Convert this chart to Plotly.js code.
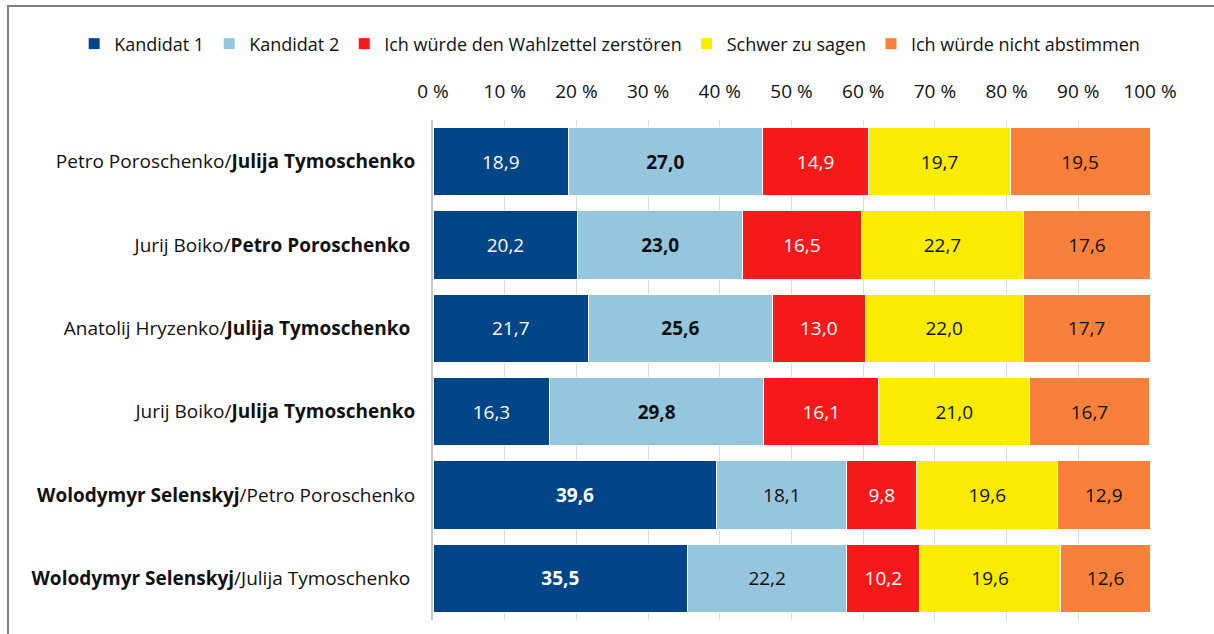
<!DOCTYPE html>
<html>
<head>
<meta charset="utf-8">
<script src="https://cdn.plot.ly/plotly-3.0.1.min.js"></script>
<style>html,body{margin:0;padding:0;background:#fff;}#chart{width:1214px;height:634px;}</style>
</head>
<body>
<div id="chart"></div>
<script>
const categories = [
  "Petro Poroschenko/<b>Julija Tymoschenko</b>",
  "Jurij Boiko/<b>Petro Poroschenko</b> ",
  "Anatolij Hryzenko/<b>Julija Tymoschenko</b> ",
  "Jurij Boiko/<b>Julija Tymoschenko</b>",
  "<b>Wolodymyr Selenskyj</b>/Petro Poroschenko",
  "<b>Wolodymyr Selenskyj</b>/Julija Tymoschenko "
];
const seriesNames = ["Kandidat 1", "Kandidat 2", "Ich würde den Wahlzettel zerstören", "Schwer zu sagen", "Ich würde nicht abstimmen"];
const kandidat1 = [18.9, 20.2, 21.7, 16.3, 39.6, 35.5];
const kandidat2 = [27.0, 23.0, 25.6, 29.8, 18.1, 22.2];
const zerstoeren = [14.9, 16.5, 13.0, 16.1, 9.8, 10.2];
const schwer = [19.7, 22.7, 22.0, 21.0, 19.6, 19.6];
const nichtAbstimmen = [19.5, 17.6, 17.7, 16.7, 12.9, 12.6];
// which candidate is bold (winner) per row: 1 or 2
const boldCandidate = [2, 2, 2, 2, 1, 1];
const xTickVals = [0, 10, 20, 30, 40, 50, 60, 70, 80, 90, 100];
const xTickText = ["0 %", "10 %", "20 %", "30 %", "40 %", "50 %", "60 %", "70 %", "80 %", "90 %", "100 %"];

const colors = ["#004587", "#96C6DD", "#F5191A", "#FAEC00", "#F9803B"];
const textColors = ["#ffffff", "#111111", "#ffffff", "#111111", "#111111"];
const allValues = [kandidat1, kandidat2, zerstoeren, schwer, nichtAbstimmen];

function fmt(v) { return v.toFixed(1).replace('.', ','); }

const FONT = "'Open Sans', 'Noto Sans', sans-serif";

const traces = allValues.map((vals, si) => ({
  type: 'bar',
  orientation: 'h',
  name: seriesNames[si],
  y: categories,
  x: vals,
  text: vals.map((v, i) => {
    const s = fmt(v);
    return (si < 2 && boldCandidate[i] === si + 1) ? '<b>' + s + '</b>' : s;
  }),
  textposition: 'inside',
  insidetextanchor: 'middle',
  textangle: 0,
  insidetextfont: {family: FONT, size: 19, color: textColors[si]},
  constraintext: 'none',
  marker: {color: colors[si], line: {color: '#ffffff', width: 1}},
  hoverinfo: 'skip'
}));

const layout = {
  width: 1214,
  height: 634,
  barmode: 'stack',
  bargap: 0.18,
  paper_bgcolor: '#ffffff',
  plot_bgcolor: '#ffffff',
  font: {family: FONT, size: 18, color: '#111111'},
  margin: {l: 433, r: 64, t: 120, b: 14, pad: 0},
  showlegend: true,
  legend: {
    orientation: 'h',
    x: -0.5005, xanchor: 'left',
    y: 1.152, yanchor: 'middle',
    font: {family: FONT, size: 18, color: '#111111'},
    traceorder: 'normal',
    itemwidth: 30,
    bgcolor: 'rgba(0,0,0,0)'
  },
  xaxis: {
    side: 'top',
    range: [0, 100],
    tickvals: xTickVals,
    ticktext: xTickText,
    showgrid: true,
    gridcolor: '#dcdcdc',
    gridwidth: 1,
    zeroline: false,
    showline: false,
    ticks: '',
    ticklabelstandoff: 17,
    tickfont: {family: FONT, size: 19, color: '#111111'},
    fixedrange: true
  },
  yaxis: {
    type: 'category',
    categoryorder: 'array',
    categoryarray: categories,
    autorange: 'reversed',
    showgrid: false,
    zeroline: false,
    showline: true,
    linecolor: '#c8c8c8',
    linewidth: 2,
    ticks: '',
    ticklabelstandoff: 12,
    tickfont: {family: FONT, size: 19, color: '#111111'},
    fixedrange: true
  },
  shapes: [{
    type: 'rect', xref: 'paper', yref: 'paper',
    x0: -0.5928, x1: 1.12, y0: -0.05, y1: 1.228,
    line: {color: '#7f7f7f', width: 2},
    fillcolor: 'rgba(0,0,0,0)',
    layer: 'below'
  }]
};

Plotly.newPlot('chart', traces, layout, {displayModeBar: false, staticPlot: true});
</script>
</body>
</html>
